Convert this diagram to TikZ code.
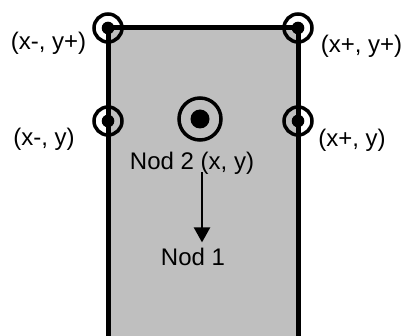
\documentclass[tikz,border=0pt]{standalone}
\usepackage{fontspec}
\setmainfont{Liberation Sans}
\usetikzlibrary{arrows.meta}
\begin{document}
\begin{tikzpicture}[
		x=1pt, y=-1pt,
		every node/.style={font=\fontsize{24}{28}\selectfont, inner sep=0pt},
		ring/.style={circle, draw, line width=3.5pt, minimum size=28pt},
		bigring/.style={circle, draw, line width=3.5pt, minimum size=42pt},
		dot/.style={circle, fill, minimum size=12.6pt},
		bigdot/.style={circle, fill, minimum size=19pt},
		lbl/.style={anchor=base}
	]
		\clip (0,0) rectangle (403,336);
		% Cell
		\draw[line width=5pt, fill=black!25] (108,380) -- (108,28) -- (298,28) -- (298,380);
		
		% Corner points
		\node[ring] (tl) at (108,28) {};
		\node[ring] (tr) at (298,28) {};
		\node[ring] (ml) at (108,121) {};
		\node[ring] (mr) at (298,121) {};
		\node[dot] at (tl) {};
		\node[dot] at (tr) {};
		\node[dot] at (ml) {};
		\node[dot] at (mr) {};
		
		% Centre point
		\node[bigring] (ctr) at (200,119) {};
		\node[bigdot] at (ctr) {};
		
		% Labels
		\node[lbl] (ltl) at (48.5,50) {(x-, y+)};
		\node[lbl] (ltr) at (361.5,53) {(x+, y+)};
		\node[lbl] (lml) at (44,145.5) {(x-, y)};
		\node[lbl] (lmr) at (352,147) {(x+, y)};
		\node[lbl] (nod2) at (192,170) {Nod 2 (x, y)};
		\node[lbl] (nod1) at (193,265) {Nod 1};
		
		% Arrow
		\draw[-{Triangle[length=15pt, width=16pt]}, line width=2.3pt]
			([yshift=3pt]nod2.south -| 202,0) -- ([yshift=5pt]nod1.north -| 202,0);
	\end{tikzpicture}
\end{document}
